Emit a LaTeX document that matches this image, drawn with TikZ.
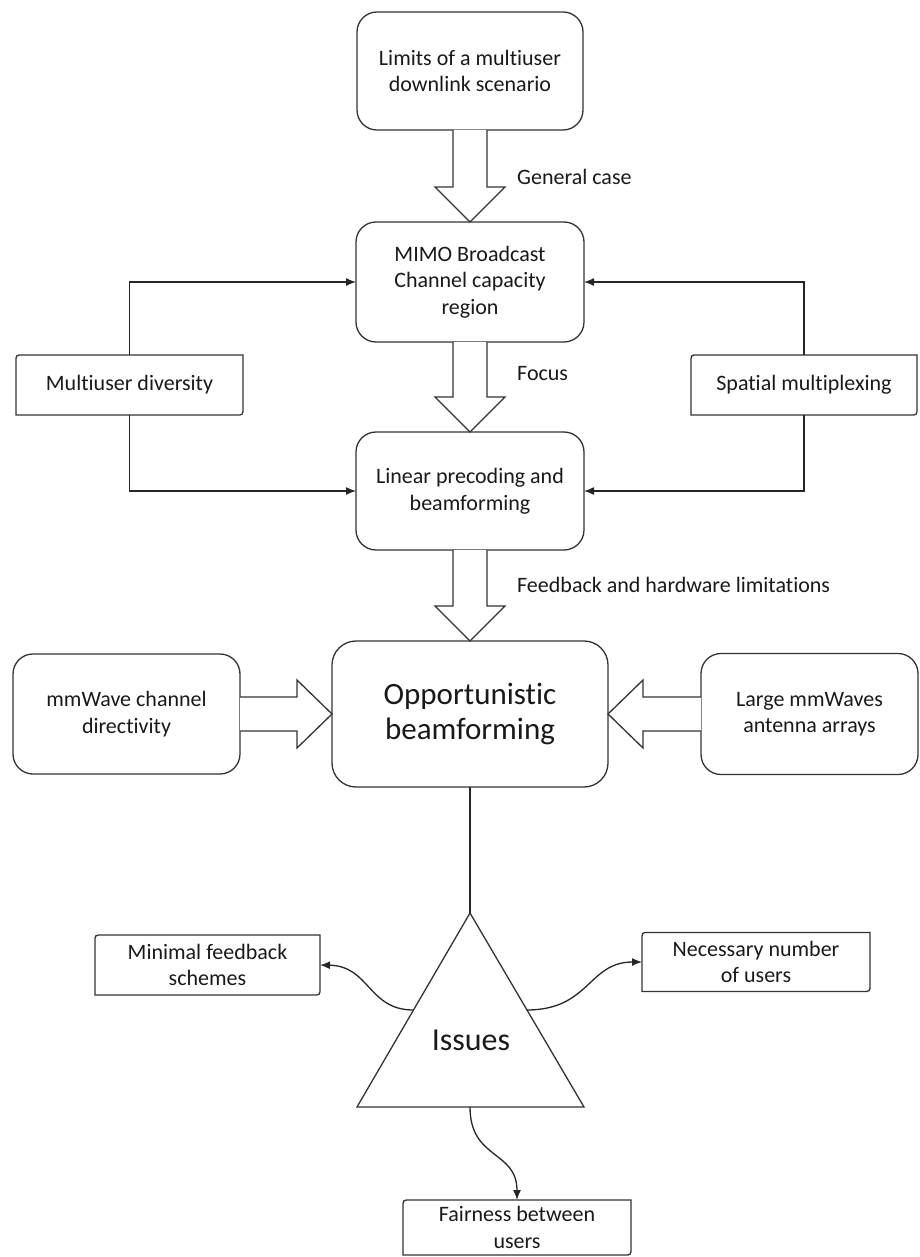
\documentclass[tikz,border=0pt]{standalone}
\usepackage{fontspec}
\setmainfont{Carlito}[RawFeature={-liga;-clig;-dlig;-calt;-rlig}]
\usetikzlibrary{calc,arrows.meta}
\tikzset{
  boxline/.style={draw=black!80, line width=1.3pt},
  bigbox/.style={boxline, rounded corners=20pt, align=center, outer sep=0pt, inner sep=2pt,
    font=\fontsize{22}{26.5}\selectfont, text=black!90},
  flatbox/.style={align=center, outer sep=0pt, inner sep=2pt,
    font=\fontsize{22}{26.5}\selectfont, text=black!90},
  lbl/.style={anchor=west, inner sep=0pt, font=\fontsize{22}{26.5}\selectfont, text=black!90},
  conn/.style={draw=black!85, line width=1.3pt, -{Latex[length=10pt,width=8pt]}},
  blockarr/.style={boxline, fill=white, line join=miter},
}
\newcommand\diagframe[1]{%
  \draw[boxline] (#1.south west) -- ($(#1.north west)+(0,7)$) .. controls (#1.north west) .. ($(#1.north west)+(7,0)$)
    -- (#1.north east) -- ($(#1.south east)+(0,-7)$) .. controls (#1.south east) .. ($(#1.south east)+(-7,0)$) -- cycle;}
\newcommand\downblock[2]{%
  \draw[blockarr] ($(#1.south)+(-17,0)$) -- ($(#2.north)+(-17,-35)$) -- ($(#2.north)+(-35,-35)$) -- (#2.north)
    -- ($(#2.north)+(35,-35)$) -- ($(#2.north)+(17,-35)$) -- ($(#1.south)+(17,0)$);}
\begin{document}
\begin{tikzpicture}[x=1pt,y=-1pt]
\useasboundingbox (0,0) rectangle (919,1257);
% main column
\node[bigbox, minimum width=226pt, minimum height=118pt] (lim) at (470,71) {Limits of a multiuser\\downlink scenario};
\node[bigbox, minimum width=228pt, minimum height=120pt] (mimo) at (470,282) {MIMO Broadcast\\Channel capacity\\region};
\node[bigbox, minimum width=228pt, minimum height=118pt] (lin) at (470,491) {Linear precoding and\\beamforming};
\node[bigbox, minimum width=276pt, minimum height=146pt, rounded corners=24pt,
      font=\fontsize{31}{35}\selectfont] (opp) at (470,714) {Opportunistic\\beamforming};
\node[bigbox, minimum width=227pt, minimum height=120pt] (mmw) at (126.5,714) {mmWave channel\\directivity};
\node[bigbox, minimum width=217pt, minimum height=121pt] (lar) at (809.5,714) {Large mmWaves\\antenna arrays};
% side boxes
\node[flatbox, minimum width=227pt, minimum height=60pt] (mud) at (129.5,385) {Multiuser diversity};
\diagframe{mud}
\node[flatbox, minimum width=226pt, minimum height=60pt] (spm) at (804,385) {Spatial multiplexing};
\diagframe{spm}
% block arrows
\downblock{lim}{mimo}
\downblock{mimo}{lin}
\downblock{lin}{opp}
\draw[blockarr] ($(mmw.east)+(0,-17)$) -- ($(opp.west)+(-35,-17)$) -- ($(opp.west)+(-35,-34)$) -- (opp.west)
  -- ($(opp.west)+(-35,34)$) -- ($(opp.west)+(-35,17)$) -- ($(mmw.east)+(0,17)$);
\draw[blockarr] ($(lar.west)+(0,-17)$) -- ($(opp.east)+(35,-17)$) -- ($(opp.east)+(35,-34)$) -- (opp.east)
  -- ($(opp.east)+(35,34)$) -- ($(opp.east)+(35,17)$) -- ($(lar.west)+(0,17)$);
% labels
\node[lbl] (lgc) at (517,177) {General case};
\node[lbl] (lfo) at (517,374) {Focus};
\node[lbl] (lfb) at (517,585) {Feedback and hardware limitations};
% elbow connectors
\draw[conn] (mud.north) |- (mimo.west);
\draw[conn] (mud.south) |- (lin.west);
\draw[conn] (spm.north) |- (mimo.east);
\draw[conn] (spm.south) |- (lin.east);
% triangle
\coordinate (tA) at (470,913);
\coordinate (tL) at (357,1107);
\coordinate (tR) at (584,1107);
\coordinate (tB) at (470,1107);
\coordinate (tLm) at (413.5,1010);
\coordinate (tRm) at (526.5,1010);
\draw[boxline, line join=miter] (tA) -- (tL) -- (tR) -- cycle;
\node[font=\fontsize{32}{36}\selectfont, text=black!90] (iss) at (471,1040) {Issues};
\draw[draw=black!85, line width=1.3pt] (opp.south) -- (tA);
% issue boxes
\node[flatbox, minimum width=225pt, minimum height=60pt] (mfs) at (207.5,965) {Minimal feedback\\schemes};
\diagframe{mfs}
\node[flatbox, minimum width=228pt, minimum height=59pt] (nnu) at (756,962) {Necessary number\\of users};
\diagframe{nnu}
\node[flatbox, minimum width=228pt, minimum height=55pt] (fbu) at (517,1227.5) {Fairness between\\users};
\diagframe{fbu}
\draw[conn] (tLm) .. controls (368,1010) and (370,966) .. (mfs.east);
\draw[conn] (tRm) .. controls (590,1010) and (588,962) .. (nnu.west);
\draw[conn] (tB) .. controls (470,1160) and (517,1150) .. (fbu.north);
\end{tikzpicture}
\end{document}
